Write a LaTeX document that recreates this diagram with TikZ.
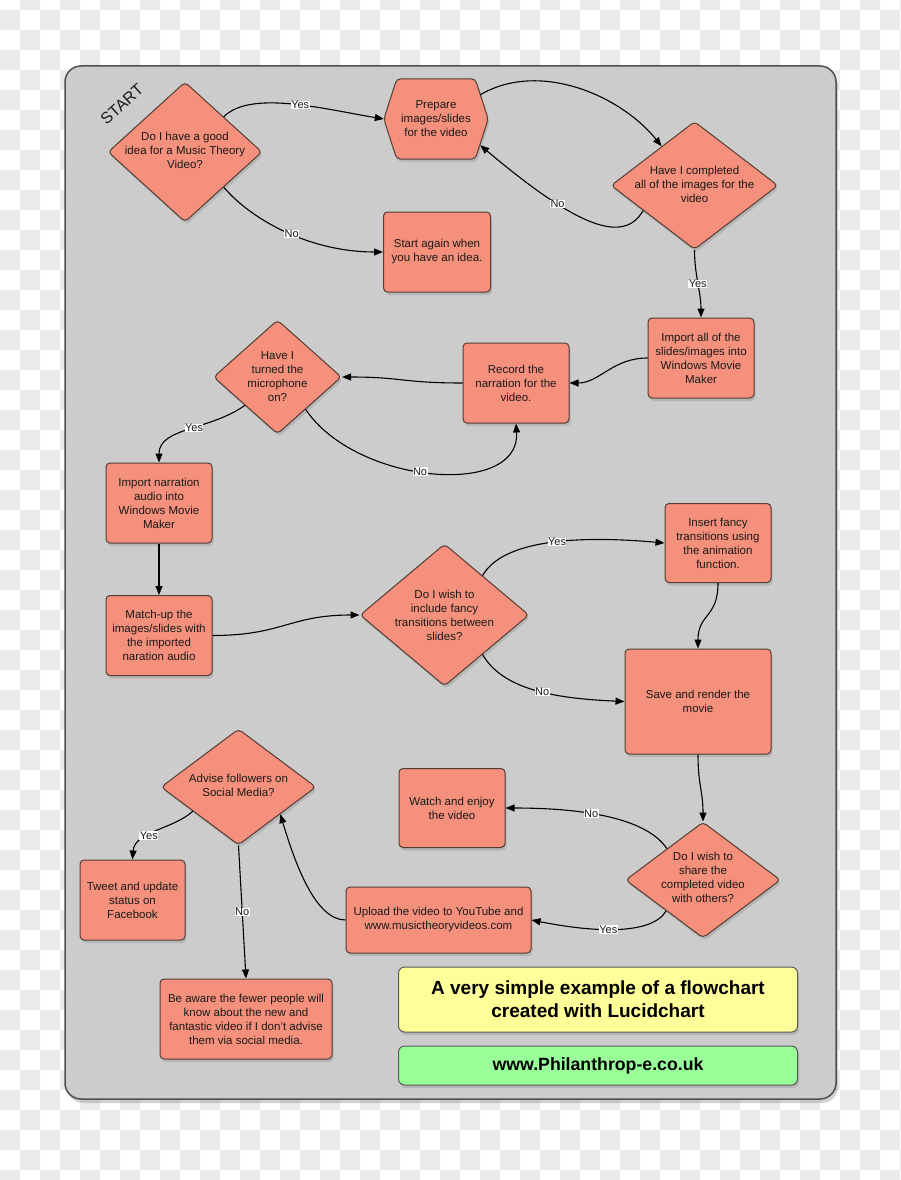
\documentclass[tikz,border=0pt]{standalone}
\usepackage{fontspec}
\setmainfont{Liberation Sans}
\usetikzlibrary{shapes.geometric,shadows,arrows.meta,calc}
\definecolor{salmon}{HTML}{F4907B}
\definecolor{bord}{HTML}{553C34}
\definecolor{panelfill}{HTML}{CCCCCC}
\definecolor{panelbord}{HTML}{505050}
\definecolor{chk}{HTML}{EBEBEB}
\definecolor{ylw}{HTML}{FFFF99}
\definecolor{grn}{HTML}{99FF99}
\definecolor{txt}{HTML}{1A1A1A}
\newcommand\nfont{\fontsize{11.5}{14}\selectfont}
\newcommand\lfont{\fontsize{11}{12}\selectfont}
\tikzset{
  shad/.style={drop shadow={shadow xshift=1.5pt, shadow yshift=-3pt, opacity=0.3}},
  box/.style={draw=bord, fill=salmon, line width=1pt, rounded corners=4pt, align=center, font=\nfont, text=txt, inner sep=2pt, shad},
  dia/.style={diamond, draw=bord, fill=salmon, line width=1pt, rounded corners=4pt, inner sep=0pt, shad},
  dtext/.style={align=center, font=\nfont, text=txt, inner sep=0pt},
  hexbg/.style={rectangle, draw=none, fill=none, inner sep=0pt},
  hexshape/.style={draw=bord, fill=salmon, line width=1pt, rounded corners=4pt, shad},
  arr/.style={draw=black, line width=1.1pt, -{Triangle[length=9pt,width=7pt]}},
  lbl/.style={fill=white, inner sep=0.4pt, font=\lfont, text=txt},
  note/.style={draw=gray!70!black, line width=1pt, rounded corners=6pt, align=center, shad, text=black}
}
\begin{document}
\begin{tikzpicture}[x=1pt,y=-1pt]
\useasboundingbox (0,0) rectangle (900,1180);
% transparent checkerboard
\fill[white] (0,0) rectangle (900,1180);
\foreach \j in {0,2,...,58} {
  \fill[chk] \foreach \i in {1,3,...,45} {(20*\i,20*\j-10) rectangle ++(20,20)}
             \foreach \i in {0,2,...,44} {(20*\i,20*\j+10) rectangle ++(20,20)};
}
% panel
\path[draw=panelbord, fill=panelfill, line width=1.5pt, rounded corners=16pt,
      drop shadow={shadow xshift=2pt, shadow yshift=-4pt, opacity=0.35}] (65,66) rectangle (836,1099);

\node[rotate=42, font=\fontsize{16}{16}\selectfont, text=txt, inner sep=0pt] (start) at (122,104) {START};

% nodes
\node[dia, minimum width=154pt, minimum height=140pt] (d1) at (185,152) {};
\node[dtext] (d1t) at (185,150) {Do I have a good\\idea for a Music Theory\\Video?};

\node[hexbg, minimum width=104pt, minimum height=80pt] (prep) at (436,119) {};
\path[hexshape] (prep.west) -- ([xshift=13pt]prep.north west) -- ([xshift=-13pt]prep.north east)
  -- (prep.east) -- ([xshift=-13pt]prep.south east) -- ([xshift=13pt]prep.south west) -- cycle;
\node[dtext] (prept) at (prep) {Prepare\\images/slides\\for the video};

\node[box, minimum width=107pt, minimum height=80pt] (again) at (437,252) {Start again when\\you have an idea.};

\node[dia, minimum width=167pt, minimum height=128pt] (d2) at (694.5,185.5) {};
\node[dtext] (d2t) at (694.5,184) {Have I completed\\all of the images for the\\video};

\node[box, minimum width=106pt, minimum height=80pt] (imp) at (701,358) {Import all of the\\slides/images into\\Windows Movie\\Maker};

\node[box, minimum width=106pt, minimum height=80pt] (rec) at (516,383) {Record the\\narration for the\\video.};

\node[dia, minimum width=128pt, minimum height=114pt] (d3) at (277.5,377) {};
\node[dtext] (d3t) at (277.5,377) {Have I\\turned the\\microphone\\on?};

\node[box, minimum width=106pt, minimum height=80pt] (narr) at (159,503) {Import narration\\audio into\\Windows Movie\\Maker};

\node[box, minimum width=106pt, minimum height=80pt] (match) at (159,635.5) {Match-up the\\images/slides with\\the imported\\naration audio};

\node[dia, minimum width=169pt, minimum height=142pt] (d4) at (444.5,615) {};
\node[dtext] (d4t) at (444.5,615) {Do I wish to\\include fancy\\transitions between\\slides?};

\node[box, minimum width=106pt, minimum height=79pt] (fancy) at (718,543) {Insert fancy\\transitions using\\the animation\\function.};

\node[box, minimum width=146pt, minimum height=105pt] (save) at (698,701.5) {Save and render the\\movie};

\node[dia, minimum width=155pt, minimum height=116pt] (d5) at (703,880) {};
\node[dtext] (d5t) at (703,877) {Do I wish to\\share the\\completed video\\with others?};

\node[box, minimum width=106pt, minimum height=79pt] (watch) at (452,808) {Watch and enjoy\\the video};

\node[box, minimum width=185pt, minimum height=66pt] (upload) at (438.5,920) {Upload the video to YouTube and\\www.musictheoryvideos.com};

\node[dia, minimum width=155pt, minimum height=116pt] (d6) at (238.5,787) {};
\node[dtext] (d6t) at (238.5,785) {Advise followers on\\Social Media?};

\node[box, minimum width=105pt, minimum height=80pt] (tweet) at (132.5,900) {Tweet and update\\status on\\Facebook};

\node[box, minimum width=172pt, minimum height=80pt] (aware) at (246,1019) {Be aware the fewer people will\\know about the new and\\fantastic video if I don't advise\\them via social media.};

\node[note, fill=ylw, minimum width=399pt, minimum height=65pt, font=\fontsize{19}{23}\selectfont\bfseries] (title) at (598,999.5) {A very simple example of a flowchart\\created with Lucidchart};
\node[note, fill=grn, minimum width=399pt, minimum height=39pt, font=\fontsize{17.7}{20}\selectfont\bfseries] (site) at (598,1065.5) {www.Philanthrop-e.co.uk};

% connectors
\draw[arr] (d1.north east) .. controls +(27,-27) and +(-60,-10) .. node[lbl,pos=0.55] (l1) {Yes} (prep.west);
\draw[arr] (d1.south east) .. controls +(30,35) and +(-70,0) .. node[lbl,pos=0.52] (l2) {No} (again.west);
\draw[arr] ($(prep.north east)+(-8,16)$) .. controls +(60,-35) and +(-40,-50) .. (d2.130);
\draw[arr] (d2.206) .. controls +(-20,35) and +(95,80) .. node[lbl,pos=0.68] (l3) {No} ($(prep.south east)+(-8,-14)$);
\draw[arr] (d2.south) .. controls +(0,25) and +(0,-25) .. node[lbl,pos=0.5] (l4) {Yes} (imp.north);
\draw[arr] (imp.west) .. controls +(-35,0) and +(30,0) .. (rec.east);
\draw[arr] (rec.west) .. controls +(-60,0) and +(60,0) .. (d3.east);
\draw[arr] (d3.221) .. controls +(-35,25) and +(0,-35) .. node[lbl,pos=0.45] (l5) {Yes} (narr.north);
\draw[arr] (d3.-49) .. controls +(50,75) and +(5,75) .. node[lbl,pos=0.46] (l6) {No} (rec.south);
\draw[arr] (narr.south) -- (match.north);
\draw[arr] (match.east) .. controls +(70,0) and +(-70,0) .. (d4.west);
\draw[arr] (d4.46) .. controls +(20,-35) and +(-90,-8) .. node[lbl,pos=0.55] (l7) {Yes} (fancy.west);
\draw[arr] (d4.-46) .. controls +(20,35) and +(-70,-3) .. node[lbl,pos=0.55] (l8) {No} (save.west);
\draw[arr] (fancy.south) .. controls +(0,35) and +(0,-35) .. (save.north);
\draw[arr] (save.south) .. controls +(0,30) and +(0,-30) .. (d5.north);
\draw[arr] (d5.139) .. controls +(-20,-30) and +(80,0) .. node[lbl,pos=0.6] (l9) {No} (watch.east);
\draw[arr] (d5.220) .. controls +(-15,25) and +(60,12) .. node[lbl,pos=0.55] (l10) {Yes} (upload.east);
\draw[arr] (upload.west) .. controls +(-30,0) and +(15,50) .. (d6.-33);
\draw[arr] (d6.208) .. controls +(-20,18) and +(2,-28) .. node[lbl,pos=0.6] (l11) {Yes} (tweet.north);
\draw[arr] (d6.south) -- node[lbl,pos=0.5] (l12) {No} (aware.north);
\end{tikzpicture}
\end{document}
